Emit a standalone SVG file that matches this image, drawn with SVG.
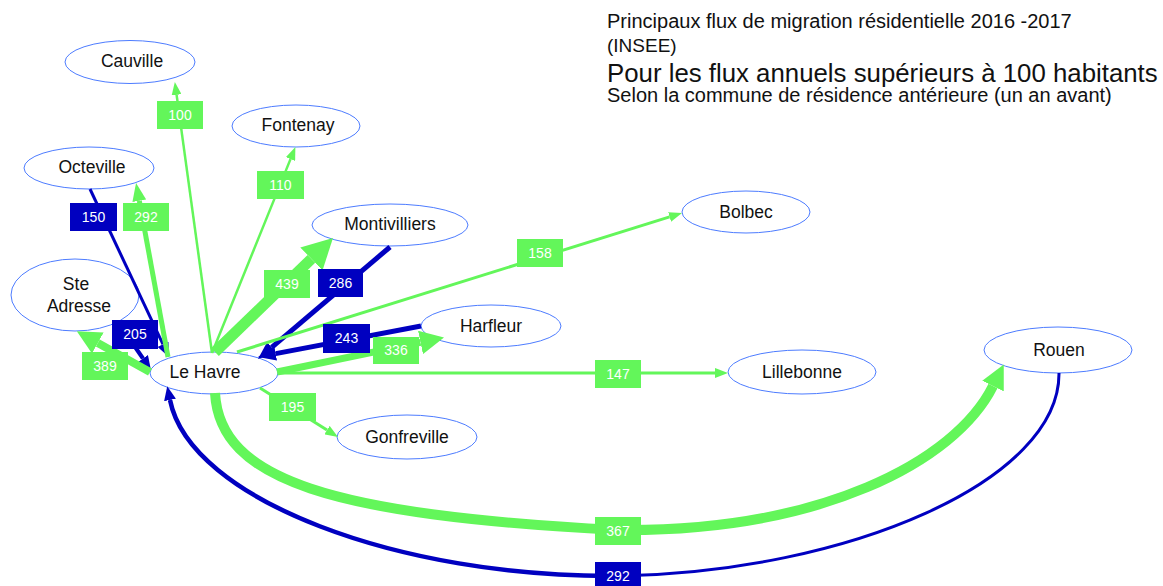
<svg xmlns="http://www.w3.org/2000/svg" width="1163" height="586" viewBox="0 0 1163 586">
<style>
.node ellipse{fill:#fff;stroke:#4d7cff;stroke-width:1}
.node text{font-family:"Liberation Sans",Arial,sans-serif;font-size:17.5px;fill:#111;text-anchor:middle}
.g{fill:none;stroke:#63f65a}
.b{fill:none;stroke:#0000c0}
.lg{fill:#63f65a}
.lb{fill:#0000c0}
.lt{font-family:"Liberation Sans",Arial,sans-serif;font-size:14px;fill:#fff;text-anchor:middle}
.title{font-family:"Liberation Sans",Arial,sans-serif;fill:#111}
</style>
<defs>
<marker id="gs" markerUnits="userSpaceOnUse" markerWidth="13" markerHeight="10" refX="0" refY="5" orient="auto"><path d="M0,0L13,5L0,10z" fill="#63f65a"/></marker>
<marker id="gm" markerUnits="userSpaceOnUse" markerWidth="18" markerHeight="14" refX="0" refY="7" orient="auto"><path d="M0,0L18,7L0,14z" fill="#63f65a"/></marker>
<marker id="gl" markerUnits="userSpaceOnUse" markerWidth="24" markerHeight="24" refX="0" refY="12" orient="auto"><path d="M0,0L24,12L0,24z" fill="#63f65a"/></marker>
<marker id="gx" markerUnits="userSpaceOnUse" markerWidth="30" markerHeight="32" refX="0" refY="16" orient="auto"><path d="M0,0L30,16L0,32z" fill="#63f65a"/></marker>
<marker id="bs" markerUnits="userSpaceOnUse" markerWidth="14" markerHeight="12" refX="0" refY="6" orient="auto"><path d="M0,0L14,6L0,12z" fill="#0000c0"/></marker>
<marker id="bm" markerUnits="userSpaceOnUse" markerWidth="18" markerHeight="14" refX="0" refY="7" orient="auto"><path d="M0,0L18,7L0,14z" fill="#0000c0"/></marker>
</defs>
<rect width="1163" height="586" fill="#fff"/>
<g id="title" class="title">
<text x="607" y="28" font-size="20">Principaux flux de migration résidentielle 2016 -2017</text>
<text x="607" y="52" font-size="19">(INSEE)</text>
<text x="607" y="82" font-size="25.8">Pour les flux annuels supérieurs à 100 habitants</text>
<text x="607" y="102" font-size="20">Selon la commune de résidence antérieure (un an avant)</text>
</g>
<g id="n-cauville" class="node"><ellipse cx="130" cy="62" rx="65" ry="21.5"/><text x="132" y="67">Cauville</text></g>
<g id="n-fontenay" class="node"><ellipse cx="296" cy="126" rx="64" ry="21"/><text x="298" y="131">Fontenay</text></g>
<g id="n-octeville" class="node"><ellipse cx="89" cy="168" rx="65" ry="21"/><text x="92" y="173">Octeville</text></g>
<g id="n-steadresse" class="node"><ellipse cx="75" cy="295" rx="64" ry="36"/><text x="76" y="290">Ste</text><text x="79" y="312">Adresse</text></g>
<g id="n-lehavre" class="node"><ellipse cx="214" cy="373" rx="64" ry="21"/><text x="205" y="378">Le Havre</text></g>
<g id="n-montivilliers" class="node"><ellipse cx="390" cy="225" rx="78" ry="21"/><text x="390" y="230">Montivilliers</text></g>
<g id="n-bolbec" class="node"><ellipse cx="746" cy="212" rx="64" ry="21"/><text x="746" y="218">Bolbec</text></g>
<g id="n-harfleur" class="node"><ellipse cx="491" cy="326" rx="70" ry="21"/><text x="491" y="332">Harfleur</text></g>
<g id="n-lillebonne" class="node"><ellipse cx="802" cy="372" rx="74" ry="22"/><text x="802" y="378">Lillebonne</text></g>
<g id="n-gonfreville" class="node"><ellipse cx="407" cy="437" rx="70" ry="22"/><text x="407" y="443">Gonfreville</text></g>
<g id="n-rouen" class="node"><ellipse cx="1058" cy="350" rx="74" ry="23"/><text x="1059" y="356">Rouen</text></g>
<g id="connectors">
<path class="g" stroke-width="2.5" d="M212,353L176.6,94.9" marker-end="url(#gs)"/>
<path class="g" stroke-width="2.5" d="M212,353L290.5,159.1" marker-end="url(#gs)"/>
<path class="b" stroke-width="3" d="M90,189L163,344.3" marker-end="url(#bs)"/>
<path class="g" stroke-width="5" d="M168,357L139.3,200.7" marker-end="url(#gm)"/>
<path class="b" stroke-width="4" d="M120,325L143,358.5" marker-end="url(#bs)"/>
<path class="g" stroke-width="8" d="M150,372L97.8,343" marker-end="url(#gl)"/>
<path class="g" stroke-width="11" d="M215,352L311.4,258.9" marker-end="url(#gx)"/>
<path class="b" stroke-width="5" d="M390,247L271.7,347.4" marker-end="url(#bm)"/>
<path class="g" stroke-width="3" d="M237,352L669.6,216.9" marker-end="url(#gs)"/>
<path class="b" stroke-width="5" d="M421,326L275.7,353.6" marker-end="url(#bm)"/>
<path class="g" stroke-width="7" d="M277,372L420.5,342.4" marker-end="url(#gl)"/>
<path class="g" stroke-width="3" d="M278,373L715,373" marker-end="url(#gs)"/>
<path class="g" stroke-width="3" d="M260,388L327,430.1" marker-end="url(#gs)"/>
<path class="g" stroke-width="10" d="M215,393C220,480 330,515 618,530C820,532 955,462 993,386" marker-end="url(#gl)"/>
<path class="b" stroke-width="4.5" d="M618,576C400,578 190,500 170,400" marker-end="url(#bs)"/>
<path class="b" stroke-width="3" d="M1059,373C1060,480 850,572 618,576"/>
<g id="labels">
<rect class="lg" x="157" y="101" width="46" height="28"/><text class="lt" x="180" y="120">100</text>
<rect class="lg" x="257" y="171" width="47" height="28"/><text class="lt" x="280.5" y="190">110</text>
<rect class="lb" x="70" y="203" width="47" height="28"/><text class="lt" x="93.5" y="222">150</text>
<rect class="lg" x="123" y="203" width="46" height="28"/><text class="lt" x="146" y="222">292</text>
<rect class="lb" x="112" y="320" width="46" height="29"/><text class="lt" x="135" y="339">205</text>
<rect class="lg" x="82" y="352" width="46" height="28"/><text class="lt" x="105" y="371">389</text>
<rect class="lg" x="264" y="270" width="46" height="28"/><text class="lt" x="287" y="289">439</text>
<rect class="lb" x="318" y="269" width="45" height="28"/><text class="lt" x="340.5" y="288">286</text>
<rect class="lg" x="517" y="239" width="46" height="28"/><text class="lt" x="540" y="258">158</text>
<rect class="lb" x="323" y="324" width="47" height="29"/><text class="lt" x="346.5" y="343">243</text>
<rect class="lg" x="373" y="337" width="46" height="27"/><text class="lt" x="396" y="355">336</text>
<rect class="lg" x="595" y="360" width="46" height="28"/><text class="lt" x="618" y="379">147</text>
<rect class="lg" x="269" y="393" width="47" height="28"/><text class="lt" x="292.5" y="412">195</text>
<rect class="lg" x="595" y="517" width="46" height="28"/><text class="lt" x="618" y="536">367</text>
<rect class="lb" x="595" y="562" width="46" height="28"/><text class="lt" x="618" y="581">292</text>
</g>
</g>
</svg>
